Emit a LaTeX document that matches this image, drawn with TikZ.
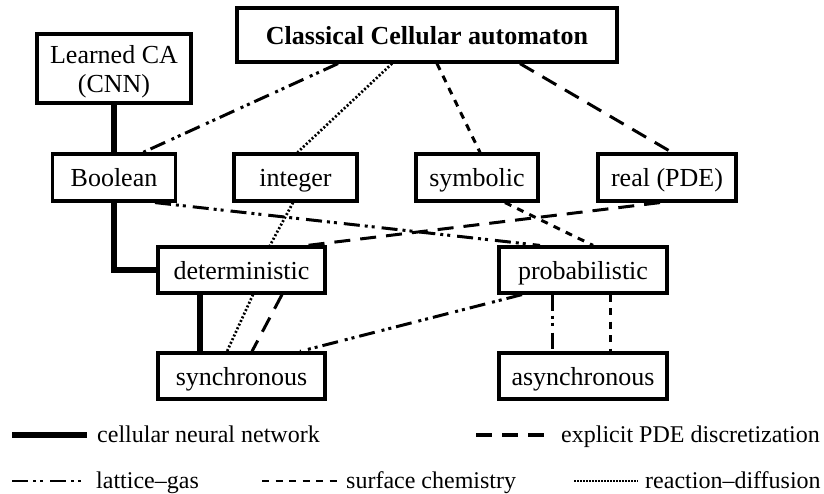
\documentclass[tikz,border=0pt]{standalone}
\usepackage{fontspec}
\setmainfont{Liberation Serif}
\begin{document}
\begin{tikzpicture}[x=1pt,y=-1pt,
  box/.style={draw, line width=3.2pt, inner sep=0pt, minimum height=47pt,
    text height=19pt, text depth=0pt, font=\fontsize{26}{29}\selectfont},
  legtext/.style={anchor=base west, inner sep=0pt, font=\fontsize{24}{27}\selectfont},
  cnn/.style={line width=5.5pt},
  pde/.style={line width=3pt, dash pattern=on 16pt off 10pt},
  latgas/.style={line width=3pt, dash pattern=on 16pt off 5pt on 3pt off 4pt on 3pt off 7pt},
  surf/.style={line width=3pt, dash pattern=on 7pt off 6.5pt},
  rdiff/.style={line width=2.7pt, dash pattern=on 2pt off 2pt}
]
\useasboundingbox (0,0) rectangle (824,494);

% nodes
\node[box, minimum width=380pt, minimum height=54pt, font=\fontsize{26}{29}\selectfont\bfseries] (cca) at (427,35) {Classical Cellular automaton};
\node[draw, line width=3.2pt, inner sep=0pt, minimum width=154pt, minimum height=69pt, align=center, font=\fontsize{26}{29}\selectfont] (learn) at (114,68.5) {\rule{0pt}{24pt}Learned CA\\(CNN)};
\node[box, minimum width=123pt] (bool) at (114,177.5) {Boolean};
\node[box, minimum width=123pt] (int) at (295.5,177.5) {integer};
\node[box, minimum width=122pt] (sym) at (477,177.5) {symbolic};
\node[box, minimum width=138pt] (real) at (667,177.5) {real (PDE)};
\node[box, minimum width=167pt, minimum height=46pt] (det) at (241.5,270) {deterministic};
\node[box, minimum width=168pt, minimum height=46pt] (prob) at (583,270) {probabilistic};
\node[box, minimum width=167pt, minimum height=46pt] (sync) at (241.5,376) {synchronous};
\node[box, minimum width=168pt, minimum height=46pt] (async) at (583,376) {asynchronous};

% connectors from the classical CA
\draw[latgas] ([xshift=-89pt]cca.south) -- ([xshift=29pt]bool.north);
\draw[rdiff] ([xshift=-35pt]cca.south) -- ([xshift=2pt]int.north);
\draw[surf] ([xshift=10pt]cca.south) -- ([xshift=3pt]sym.north);
\draw[pde] ([xshift=93pt]cca.south) -- ([xshift=5pt]real.north);

% cellular neural network
\draw[cnn] (learn.south) -- (bool.north);
\draw[cnn] (bool.south) |- (det.west);
\draw[cnn] ([xshift=-41.5pt]det.south) -- ([xshift=-41.5pt]sync.north);

% middle layer
\draw[latgas] ([xshift=41pt]bool.south) -- ([xshift=-43pt]prob.north);
\draw[pde] ([xshift=-7pt]real.south) -- ([xshift=66pt]det.north);
\draw[surf] ([xshift=28pt]sym.south) -- ([xshift=10pt]prob.north);
\draw[rdiff] ([xshift=-2.5pt]int.south) -- ([xshift=28.5pt]det.north);

% bottom layer
\draw[rdiff] ([xshift=11.5pt]det.south) -- ([xshift=-14.5pt]sync.north);
\draw[pde] ([xshift=40.5pt]det.south) -- ([xshift=10.5pt]sync.north);
\draw[latgas] ([xshift=-61pt]prob.south) -- ([xshift=58.5pt]sync.north);
\draw[latgas] ([xshift=-31pt]prob.south) -- ([xshift=-31pt]async.north);
\draw[surf] ([xshift=27pt]prob.south) -- ([xshift=27pt]async.north);

% legend
\coordinate (c1a) at (12,435); \coordinate (c1b) at (87,435);
\coordinate (c2a) at (476,435); \coordinate (c2b) at (544,435);
\coordinate (c3a) at (12,481); \coordinate (c3b) at (86,481);
\coordinate (c4a) at (262,481); \coordinate (c4b) at (338,481);
\coordinate (c5a) at (574,481); \coordinate (c5b) at (638,481);
\draw[cnn] (c1a) -- (c1b);
\draw[pde, line width=3.6pt] (c2a) -- (c2b);
\draw[latgas, line width=2.6pt] (c3a) -- (c3b);
\draw[surf, line width=2.6pt] (c4a) -- (c4b);
\draw[rdiff, line width=2pt, dash pattern=on 1.5pt off 1.5pt] (c5a) -- (c5b);
\node[legtext] (t1) at (97,442) {cellular neural network};
\node[legtext] (t2) at (561,442) {explicit PDE discretization};
\node[legtext] (t3) at (96,488) {lattice–gas};
\node[legtext] (t4) at (346,488) {surface chemistry};
\node[legtext] (t5) at (645,488) {reaction–diffusion};
\end{tikzpicture}
\end{document}
